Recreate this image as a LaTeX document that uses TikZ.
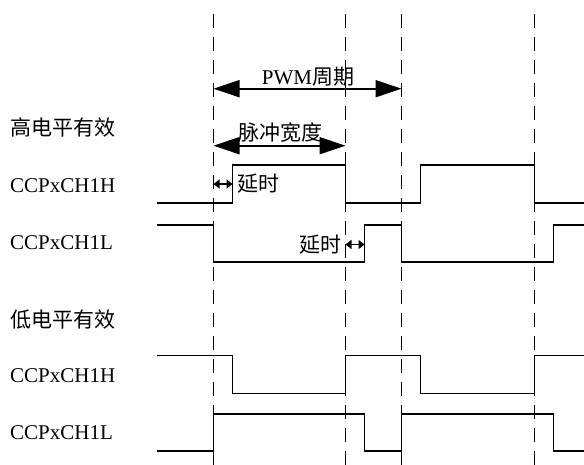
\documentclass[tikz,border=0pt]{standalone}
\usepackage{fontspec}
\setmainfont{Liberation Serif}
\newfontfamily\cjk{Noto Sans CJK SC}
\usetikzlibrary{arrows.meta}
\begin{document}
\begin{tikzpicture}[x=1pt,y=-1pt,
  wave/.style={line width=1.8pt, line join=miter},
  gridline/.style={line width=1.7pt, dash pattern=on 14pt off 9pt},
  bigarrow/.style={line width=1.8pt, {Triangle[length=26pt,width=17pt]}-{Triangle[length=26pt,width=17pt]}},
  smallarrow/.style={line width=1.6pt, {Triangle[length=6pt,width=9pt]}-{Triangle[length=6pt,width=9pt]}},
  lbl/.style={font=\fontsize{21pt}{24pt}\selectfont, inner sep=0pt},
]
\useasboundingbox (0,0) rectangle (584,465);
% dashed reference lines
\foreach \n/\x in {a/213.5,b/345.5,c/401.5,d/534.5}{
  \coordinate (\n top) at (\x,14);
  \coordinate (\n bot) at (\x,465);
  \draw[gridline] (\n top) -- (\n bot);
}
% waveforms
\draw[wave] (157,203) -- (232.5,203) -- (232.5,165) -- (345.5,165) -- (345.5,203) -- (420.5,203) -- (420.5,165) -- (534.5,165) -- (534.5,203) -- (584,203);
\draw[wave] (157,225) -- (213.5,225) -- (213.5,262) -- (364.5,262) -- (364.5,225) -- (401.5,225) -- (401.5,262) -- (553.5,262) -- (553.5,225) -- (584,225);
\draw[wave] (157,355.5) -- (232.5,355.5) -- (232.5,393.5) -- (345.5,393.5) -- (345.5,355.5) -- (420.5,355.5) -- (420.5,393.5) -- (534.5,393.5) -- (534.5,355.5) -- (584,355.5);
\draw[wave] (157,451) -- (213.5,451) -- (213.5,414) -- (364.5,414) -- (364.5,451) -- (401.5,451) -- (401.5,414) -- (553.5,414) -- (553.5,451) -- (584,451);
% left labels
\node[lbl, anchor=west] (hi) at (10,128) {\cjk 高电平有效};
\node[lbl, anchor=west] (h1) at (10,186) {CCPxCH1H};
\node[lbl, anchor=west] (l1) at (10,243) {CCPxCH1L};
\node[lbl, anchor=west] (lo) at (10,320) {\cjk 低电平有效};
\node[lbl, anchor=west] (h2) at (10,376) {CCPxCH1H};
\node[lbl, anchor=west] (l2) at (10,433) {CCPxCH1L};
% period and pulse width
\coordinate (pwmL) at (213.5,88.7);
\coordinate (pwmR) at (401.5,88.7);
\draw[bigarrow] (pwmL) -- (pwmR);
\node[lbl] (pwm) at (308,77) {PWM\cjk 周期};
\coordinate (pwL) at (213.5,145.7);
\coordinate (pwR) at (345.5,145.7);
\draw[bigarrow] (pwL) -- (pwR);
\node[lbl] (pw) at (280,133) {\cjk 脉冲宽度};
% delays
\coordinate (d1L) at (213.5,184);
\coordinate (d1R) at (232.5,184);
\draw[smallarrow] (d1L) -- (d1R);
\node[lbl, anchor=west] (dl1) at (237,184) {\cjk 延时};
\coordinate (d2L) at (345.5,244.5);
\coordinate (d2R) at (364.5,244.5);
\draw[smallarrow] (d2L) -- (d2R);
\node[lbl, anchor=east] (dl2) at (342,245) {\cjk 延时};
\end{tikzpicture}
\end{document}
